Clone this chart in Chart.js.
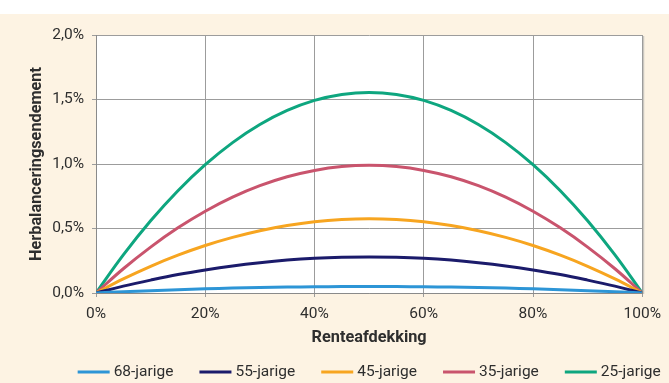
<!DOCTYPE html>
<html>
<head>
<meta charset="utf-8">
<script src="https://cdn.jsdelivr.net/npm/chart.js@4/dist/chart.umd.min.js"></script>
<style>
  html, body { margin: 0; padding: 0; background: #ffffff; }
  #wrap { position: relative; width: 669px; height: 383px; }
</style>
</head>
<body>
<div id="wrap"><canvas id="c" width="669" height="383"></canvas></div>
<script>
// Renteafdekking (%) on the horizontal axis
const hedgeRatio = [0, 5, 10, 15, 20, 25, 30, 35, 40, 45, 50, 55, 60, 65, 70, 75, 80, 85, 90, 95, 100];

// Herbalanceringsrendement (%) per age group
const age68 = [0, 0.010, 0.018, 0.026, 0.032, 0.038, 0.042, 0.046, 0.048, 0.050, 0.050, 0.050, 0.048, 0.046, 0.042, 0.038, 0.032, 0.026, 0.018, 0.010, 0];
const age55 = [0, 0.053, 0.100, 0.143, 0.179, 0.210, 0.235, 0.255, 0.269, 0.277, 0.280, 0.277, 0.269, 0.255, 0.235, 0.210, 0.179, 0.143, 0.100, 0.053, 0];
const age45 = [0, 0.109, 0.207, 0.293, 0.368, 0.431, 0.483, 0.523, 0.552, 0.569, 0.575, 0.569, 0.552, 0.523, 0.483, 0.431, 0.368, 0.293, 0.207, 0.109, 0];
const age35 = [0, 0.188, 0.356, 0.505, 0.634, 0.743, 0.832, 0.901, 0.950, 0.980, 0.990, 0.980, 0.950, 0.901, 0.832, 0.743, 0.634, 0.505, 0.356, 0.188, 0];
const age25 = [0, 0.295, 0.560, 0.793, 0.995, 1.166, 1.306, 1.415, 1.493, 1.539, 1.555, 1.539, 1.493, 1.415, 1.306, 1.166, 0.995, 0.793, 0.560, 0.295, 0];

const seriesNames = ['68-jarige', '55-jarige', '45-jarige', '35-jarige', '25-jarige'];
const seriesValues = [age68, age55, age45, age35, age25];
const seriesColors = ['#2d95d6', '#1b1b6b', '#f7a520', '#c9546d', '#0ea67f'];

const xTickValues = [0, 20, 40, 60, 80, 100];
const yTickValues = [0, 0.5, 1.0, 1.5, 2.0];

const xTitle = 'Renteafdekking';
const yTitle = 'Herbalanceringsendement';

const FONT = 'Roboto, "Liberation Sans", sans-serif';
const TEXT = '#2e2e2e';

// Beige panel behind the chart, leaving a thin white band on top
const panel = {
  id: 'panel',
  beforeDraw(chart) {
    const ctx = chart.ctx;
    ctx.save();
    ctx.fillStyle = '#fdf3e3';
    ctx.fillRect(0, 14, chart.width, chart.height - 14);
    const a = chart.chartArea;
    ctx.fillStyle = '#ffffff';
    ctx.fillRect(a.left, a.top, a.right - a.left, a.bottom - a.top);
    // soft shadow along the right edge of the plot
    ctx.fillStyle = '#cbc7c0';
    ctx.fillRect(a.right + 0.5, a.top + 1, 1.5, a.bottom - a.top);
    ctx.restore();
  }
};

// One-row legend: short thick line followed by the series name
const lineLegend = {
  id: 'lineLegend',
  afterDraw(chart) {
    const ctx = chart.ctx;
    const a = chart.chartArea;
    const swatch = 32, gapText = 4, gapItem = 26, y = 372;
    ctx.save();
    ctx.font = '15.5px ' + FONT;
    ctx.textBaseline = 'middle';
    const items = chart.data.datasets.map(ds => ({
      text: ds.label, color: ds.borderColor,
      w: swatch + gapText + ctx.measureText(ds.label).width
    }));
    const total = items.reduce((s, it) => s + it.w, 0) + gapItem * (items.length - 1);
    let x = (a.left + a.right) / 2 - total / 2;
    items.forEach(it => {
      ctx.fillStyle = it.color;
      ctx.fillRect(x, y - 1.5, swatch, 3);
      ctx.fillStyle = TEXT;
      ctx.fillText(it.text, x + swatch + gapText, y + 0.5);
      x += it.w + gapItem;
    });
    ctx.restore();
  }
};

const datasets = seriesNames.map((name, i) => ({
  label: name,
  data: hedgeRatio.map((x, j) => ({ x: x, y: seriesValues[i][j] })),
  borderColor: seriesColors[i],
  backgroundColor: seriesColors[i],
  borderWidth: 3,
  pointRadius: 0,
  tension: 0.4,
  fill: false
}));

new Chart(document.getElementById('c'), {
  type: 'line',
  data: { datasets },
  plugins: [panel, lineLegend],
  options: {
    responsive: false,
    animation: false,
    layout: { padding: { left: 0, right: 21, top: 35, bottom: 0 } },
    plugins: {
      legend: { display: false },
      tooltip: { enabled: false }
    },
    scales: {
      x: {
        type: 'linear',
        min: 0,
        max: 100,
        afterBuildTicks: s => { s.ticks = xTickValues.map(v => ({ value: v })); },
        afterFit: s => { s.height = 90; },
        ticks: {
          color: TEXT,
          font: { family: FONT, size: 15.5 },
          padding: 8,
          maxRotation: 0,
          callback: v => v + '%'
        },
        grid: { color: '#9c9c9c', lineWidth: 1, tickLength: 4 },
        border: { color: '#8a8a8a', width: 1 },
        title: {
          display: true,
          text: xTitle,
          color: TEXT,
          font: { family: FONT, size: 16.3, weight: 'bold' },
          padding: { top: 0, bottom: 35 }
        }
      },
      y: {
        min: 0,
        max: 2,
        afterBuildTicks: s => { s.ticks = yTickValues.map(v => ({ value: v })); },
        afterFit: s => { s.width = 96; },
        ticks: {
          color: TEXT,
          font: { family: FONT, size: 15.5 },
          padding: 8,
          callback: v => v.toFixed(1).replace('.', ',') + '%'
        },
        grid: { color: '#9c9c9c', lineWidth: 1, tickLength: 4 },
        border: { color: '#8a8a8a', width: 1 },
        title: {
          display: true,
          text: yTitle,
          color: TEXT,
          font: { family: FONT, size: 16.3, weight: 'bold' },
          padding: { top: 27, bottom: 0 }
        }
      }
    }
  }
});
</script>
</body>
</html>
